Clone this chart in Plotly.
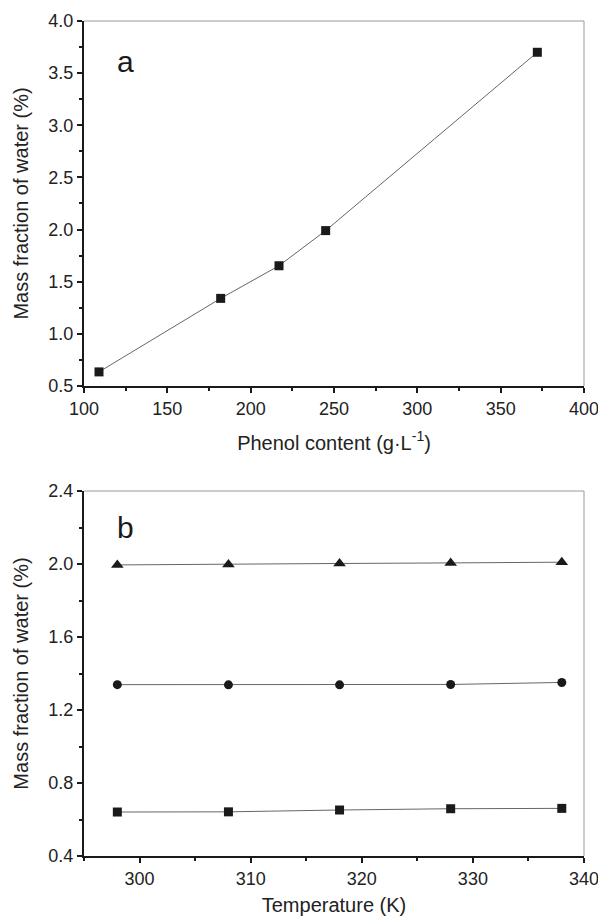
import plotly.graph_objects as go
from plotly.subplots import make_subplots

# Panel a data
phenol_content = [109, 182, 217, 245, 372]
water_a = [0.635, 1.34, 1.653, 1.99, 3.70]

# Panel b data
temperature = [298, 308, 318, 328, 338]
water_b_tri = [1.995, 1.997, 2.003, 2.006, 2.01]
water_b_circ = [1.339, 1.338, 1.338, 1.340, 1.351]
water_b_sq = [0.641, 0.642, 0.652, 0.659, 0.661]

FONT = "Liberation Sans, Arial, sans-serif"

fig = make_subplots(rows=2, cols=1, vertical_spacing=0.1258)

line_style = dict(color="#666666", width=1)

fig.add_trace(go.Scatter(x=phenol_content, y=water_a, mode="lines+markers",
                         line=line_style,
                         marker=dict(symbol="square", size=9, color="#1a1a1a"),
                         showlegend=False), row=1, col=1)

for ys, sym, sz in [(water_b_tri, "triangle-up", 11), (water_b_circ, "circle", 9), (water_b_sq, "square", 9)]:
    fig.add_trace(go.Scatter(x=temperature, y=ys, mode="lines+markers",
                             line=line_style,
                             marker=dict(symbol=sym, size=sz, color="#1a1a1a"),
                             showlegend=False), row=2, col=1)

axis_common = dict(showline=True, linecolor="#1a1a1a", linewidth=2, ticks="outside",
                   tickcolor="#1a1a1a", tickwidth=2, ticklen=5, showgrid=False, zeroline=False,
                   automargin=False, ticklabeloverflow="allow",
                   tickfont=dict(family=FONT, size=18, color="#222222"),
                   title_font=dict(family=FONT, size=20, color="#222222"))

fig.update_xaxes(**axis_common)
fig.update_yaxes(**axis_common)

minor_x = dict(ticks="outside", ticklen=3, tickcolor="#1a1a1a", tickwidth=2)

fig.update_xaxes(range=[100, 400], dtick=50, tick0=100,
                 minor=dict(dtick=25, **minor_x),
                 title_text="Phenol content (g·L<sup>-1</sup>)", title_standoff=18, row=1, col=1)
fig.update_yaxes(range=[0.5, 4.0], dtick=0.5, tick0=0.5, tickformat=".1f",
                 minor=dict(dtick=0.25, **minor_x),
                 title_text="Mass fraction of water (%)", title_standoff=14, row=1, col=1)
fig.update_xaxes(range=[295, 340], dtick=10, tick0=300,
                 minor=dict(dtick=5, **minor_x),
                 title_text="Temperature (K)", title_standoff=10, row=2, col=1)
fig.update_yaxes(range=[0.4, 2.4], dtick=0.4, tick0=0.4, tickformat=".1f",
                 minor=dict(dtick=0.2, **minor_x),
                 title_text="Mass fraction of water (%)", title_standoff=14, row=2, col=1)

fig.update_layout(yaxis=dict(domain=[0.5629, 1.0]), yaxis2=dict(domain=[0.0, 0.4371]))

# gray top/right frame lines
for xr, yr in [("x domain", "y domain"), ("x2 domain", "y2 domain")]:
    fig.add_shape(type="line", xref=xr, yref=yr, x0=0, x1=1, y0=1, y1=1,
                  line=dict(color="#999999", width=1))
    fig.add_shape(type="line", xref=xr, yref=yr, x0=1, x1=1, y0=0, y1=1,
                  line=dict(color="#999999", width=1))

fig.add_annotation(text="a", xref="x domain", yref="y domain", x=0.082, y=0.89,
                   showarrow=False, xanchor="center", yanchor="middle",
                   font=dict(family=FONT, size=30, color="#1a1a1a"))
fig.add_annotation(text="b", xref="x2 domain", yref="y2 domain", x=0.082, y=0.90,
                   showarrow=False, xanchor="center", yanchor="middle",
                   font=dict(family=FONT, size=30, color="#1a1a1a"))

fig.update_layout(width=598, height=917, margin=dict(l=84, r=14, t=21, b=61),
                  plot_bgcolor="white", paper_bgcolor="white")

fig.write_html("out.html", config={"displayModeBar": False},
               post_script="document.body.style.margin='0';document.body.style.overflow='hidden';")
